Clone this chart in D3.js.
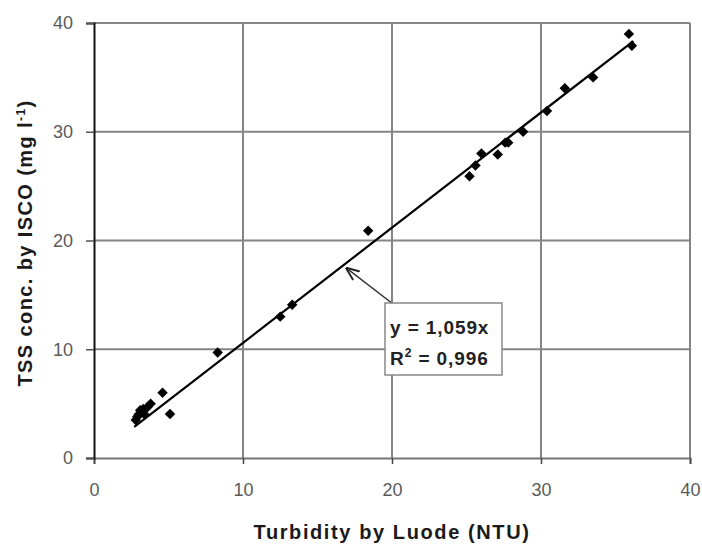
<!DOCTYPE html>
<html>
<head>
<meta charset="utf-8">
<script src="https://cdn.jsdelivr.net/npm/d3@7"></script>
<style>
  html, body { margin: 0; padding: 0; background: #fff; }
  svg { display: block; font-family: "Liberation Sans", Arial, sans-serif; }
</style>
</head>
<body>
<svg id="chart" width="702" height="544"></svg>
<script>
// Turbidity (NTU) measured by Luode sensor
const turbidity = [2.8, 2.9, 3.0, 3.1, 3.1, 3.3, 3.4, 3.6, 3.8, 4.6, 5.1,
  8.3, 12.5, 13.3, 18.4,
  25.2, 25.6, 26.0, 27.1, 27.6, 27.8, 28.8, 30.4, 31.6, 33.5, 35.9, 36.1];
// TSS concentration (mg/l) by ISCO sampler
const tss = [3.5, 3.8, 4.0, 4.1, 4.4, 4.5, 4.0, 4.7, 5.0, 6.0, 4.05,
  9.7, 13.0, 14.1, 20.9,
  25.9, 26.9, 28.0, 27.9, 29.0, 29.0, 30.0, 31.9, 34.0, 35.0, 39.0, 37.9];

const xTicks = [0, 10, 20, 30, 40];
const yTicks = [0, 10, 20, 30, 40];
const slope = 1.059;
const fitRange = [2.7, 36.2];
const equationText = "y = 1,059x";
const r2Text = "0,996";

const svg = d3.select("#chart");
const x = d3.scaleLinear().domain([0, 40]).range([94, 690]);
const y = d3.scaleLinear().domain([0, 40]).range([458, 23]);

// grid
svg.append("g").selectAll("line.h").data(yTicks.filter(d => d > 0)).join("line")
  .attr("x1", x(0)).attr("x2", x(40)).attr("y1", d => y(d)).attr("y2", d => y(d))
  .attr("stroke", "#858585").attr("stroke-width", 2);
svg.append("g").selectAll("line.v").data(xTicks.filter(d => d > 0)).join("line")
  .attr("y1", y(0)).attr("y2", y(40)).attr("x1", d => x(d)).attr("x2", d => x(d))
  .attr("stroke", "#858585").attr("stroke-width", 2);

// x axis
const xAxis = svg.append("g").attr("transform", `translate(0,${y(0)})`)
  .call(d3.axisBottom(x).tickValues(xTicks).tickSize(6).tickPadding(19).tickFormat(d3.format("d")));
xAxis.select(".domain").attr("stroke", "#777").attr("stroke-width", 2);
xAxis.selectAll(".tick line").attr("stroke", "#444").attr("stroke-width", 1.5);
xAxis.selectAll("text").attr("font-size", 18).attr("fill", "#5a5a5a").attr("font-family", "Liberation Sans, Arial, sans-serif");

// y axis
const yAxis = svg.append("g").attr("transform", `translate(${x(0)},0)`)
  .call(d3.axisLeft(y).tickValues(yTicks).tickSize(8).tickPadding(13).tickFormat(d3.format("d")));
yAxis.select(".domain").attr("stroke", "#111").attr("stroke-width", 2);
yAxis.selectAll(".tick line").attr("stroke", "#555").attr("stroke-width", 1.5);
yAxis.selectAll("text").attr("font-size", 18).attr("fill", "#5a5a5a").attr("font-family", "Liberation Sans, Arial, sans-serif");

// axis titles
svg.append("text").attr("x", 392).attr("y", 539).attr("text-anchor", "middle")
  .attr("font-size", 20).attr("font-weight", "bold").attr("fill", "#1a1a1a")
  .attr("letter-spacing", 1.6)
  .text("Turbidity by Luode (NTU)");
const yt = svg.append("text").attr("transform", "translate(32,243) rotate(-90)")
  .attr("text-anchor", "middle").attr("font-size", 20).attr("font-weight", "bold").attr("fill", "#1a1a1a")
  .attr("letter-spacing", 1.4);
yt.append("tspan").text("TSS conc. by ISCO (mg l");
yt.append("tspan").attr("dy", -7).attr("font-size", 12).text("-1");
yt.append("tspan").attr("dy", 7).text(")");

// linear fit
svg.append("line")
  .attr("x1", x(fitRange[0])).attr("y1", y(slope * fitRange[0]))
  .attr("x2", x(fitRange[1])).attr("y2", y(slope * fitRange[1]))
  .attr("stroke", "#000").attr("stroke-width", 2.2);

// observations
const pts = turbidity.map((t, i) => [t, tss[i]]);
svg.append("g").selectAll("path").data(pts).join("path")
  .attr("transform", d => `translate(${x(d[0])},${y(d[1])})`)
  .attr("d", d3.symbol(d3.symbolDiamond2, 70))
  .attr("fill", "#000");

// equation callout with arrow pointing at the fit line
const defs = svg.append("defs");
defs.append("marker").attr("id", "arrow").attr("viewBox", "0 0 10 10")
  .attr("refX", 9).attr("refY", 5).attr("markerWidth", 9).attr("markerHeight", 9)
  .attr("orient", "auto-start-reverse")
  .append("path").attr("d", "M0,1 L10,5 L0,9").attr("fill", "none").attr("stroke", "#222").attr("stroke-width", 1.4);
const tx = 16.9;
svg.append("line").attr("x1", 393).attr("y1", 304)
  .attr("x2", x(tx) + 1).attr("y2", y(slope * tx) + 5)
  .attr("stroke", "#333").attr("stroke-width", 1.5).attr("marker-end", "url(#arrow)");
svg.append("rect").attr("x", 385).attr("y", 303).attr("width", 117).attr("height", 72)
  .attr("fill", "#fff").attr("stroke", "#888").attr("stroke-width", 1.5);
svg.append("text").attr("x", 390).attr("y", 334).attr("font-size", 19).attr("font-weight", "bold")
  .attr("letter-spacing", 0.9).attr("fill", "#222").text(equationText);
const r2 = svg.append("text").attr("x", 390).attr("y", 365).attr("font-size", 19).attr("font-weight", "bold")
  .attr("letter-spacing", 0.9).attr("fill", "#222");
r2.append("tspan").text("R");
r2.append("tspan").attr("dy", -8).attr("font-size", 12).text("2");
r2.append("tspan").attr("dy", 8).text(" = " + r2Text);
</script>
</body>
</html>
